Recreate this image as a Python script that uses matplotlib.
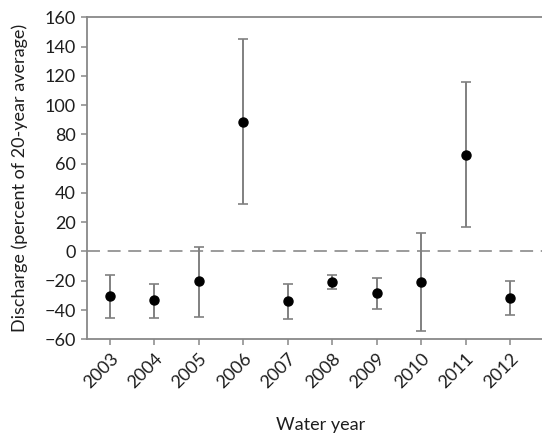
import matplotlib
matplotlib.use("Agg")
import matplotlib.pyplot as plt
import matplotlib.transforms as mtransforms
import numpy as np

years = ["2003", "2004", "2005", "2006", "2007", "2008", "2009", "2010", "2011", "2012"]
discharge = [-30.5, -33.3, -20.5, 88.8, -33.7, -21.0, -28.5, -21.0, 65.8, -32.1]
upper = [-16.2, -21.9, 3.4, 145.0, -21.9, -16.4, -17.8, 12.3, 115.5, -20.3]
lower = [-45.3, -45.3, -44.7, 32.3, -45.8, -25.5, -39.6, -54.5, 16.4, -43.7]
y_ticks = list(range(-60, 161, 20))

plt.rcParams['font.family'] = ['Lato', 'DejaVu Sans']

W, H = 542, 436
fig = plt.figure(figsize=(W / 100, H / 100), dpi=100)
ax = fig.add_axes([87 / W, 1 - 339.3 / H, 1 - 87 / W, (339.3 - 17.3) / H])

x = np.arange(len(years))
vals = np.array(discharge)
yerr = np.array([vals - np.array(lower), np.array(upper) - vals])

ax.axhline(0, color="#808080", lw=1.1, linestyle=(0, (8.5, 5)), zorder=1)
ax.errorbar(x, vals, yerr=yerr, fmt="o", color="black", ms=6.5,
            ecolor="#808080", elinewidth=1.4, capsize=3.8, capthick=1.2, zorder=3)

ax.set_xlim(-0.518, 9.72)
ax.set_ylim(-60, 160)
ax.set_yticks(y_ticks)
ax.set_xticks(x)
ax.set_xticklabels(years, rotation=45, ha="right", rotation_mode="anchor")

# nudge the rotated year labels slightly to the right of their ticks
shift = mtransforms.ScaledTranslation(6 / 100, 0, fig.dpi_scale_trans)
for lbl in ax.get_xticklabels():
    lbl.set_transform(lbl.get_transform() + shift)

ax.spines["right"].set_visible(False)
for s in ["left", "bottom", "top"]:
    ax.spines[s].set_color("#888888")
    ax.spines[s].set_linewidth(1.3)

ax.tick_params(axis="both", colors="#888888", labelcolor="#1e1e1e", labelsize=13,
               length=4, width=1.1)
ax.tick_params(axis="x", pad=4)
ax.tick_params(axis="y", pad=4)

ax.set_ylabel("Discharge (percent of 20-year average)", fontsize=13, color="#1e1e1e")
ax.set_xlabel("Water year", fontsize=13, color="#1e1e1e")
ax.yaxis.set_label_coords((20 - 87) / (W - 87), 0.5)
ax.xaxis.set_label_coords((321 - 87) / (W - 87), -(425 - 339.3) / 322)
ax.xaxis.label.set_va("center")
ax.yaxis.label.set_va("center")

fig.savefig("out.png", dpi=100)
